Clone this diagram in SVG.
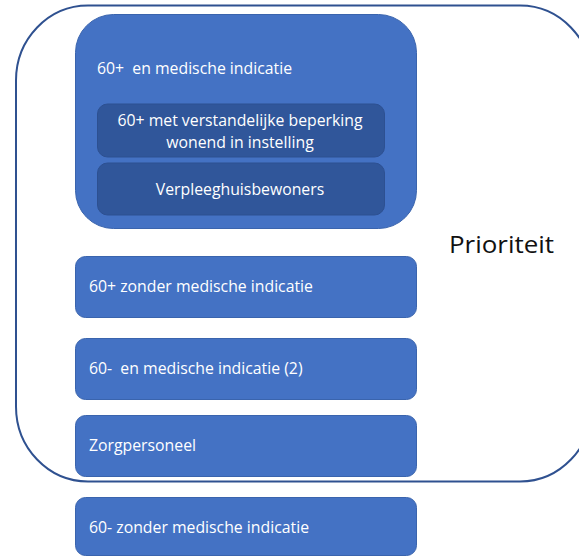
<svg xmlns="http://www.w3.org/2000/svg" width="579" height="557" viewBox="0 0 579 557">
<style>
.box{fill:#4472c4;stroke:#3a64ad;stroke-width:1}
.inner{fill:#30569a;stroke:#2d5091;stroke-width:1}
.t{font-family:"Open Sans","Liberation Sans",sans-serif;font-size:15.8px;fill:#ffffff;white-space:pre}
.c{text-anchor:middle}
.p{font-family:"Open Sans","Liberation Sans",sans-serif;font-size:23px;fill:#111111}
</style>
<rect width="579" height="557" fill="#ffffff"/>
<g id="frame">
<rect x="16" y="5.5" width="576" height="476" rx="72" ry="75" fill="none" stroke="#2f5190" stroke-width="2"/>
<text class="p" x="449" y="253" textLength="105" lengthAdjust="spacingAndGlyphs">Prioriteit</text>
</g>
<g id="n1">
<rect class="box" x="75.5" y="14.5" width="341" height="214" rx="38"/>
<text class="t" x="97" y="74" xml:space="preserve">60+  en medische indicatie</text>
</g>
<g id="n1a">
<rect class="inner" x="97.5" y="104" width="287" height="53" rx="10"/>
<text class="t c" x="240" y="126">60+ met verstandelijke beperking</text>
<text class="t c" x="240" y="148">wonend in instelling</text>
</g>
<g id="n1b">
<rect class="inner" x="97.5" y="163" width="287" height="52" rx="10"/>
<text class="t c" x="240" y="195">Verpleeghuisbewoners</text>
</g>
<g id="n2">
<rect class="box" x="75.5" y="256.5" width="341" height="61" rx="10"/>
<text class="t" x="89" y="292">60+ zonder medische indicatie</text>
</g>
<g id="n3">
<rect class="box" x="75.5" y="338.5" width="341" height="61" rx="10"/>
<text class="t" x="89" y="374" xml:space="preserve">60-  en medische indicatie (2)</text>
</g>
<g id="n4">
<rect class="box" x="75.5" y="415.5" width="341" height="61" rx="10"/>
<text class="t" x="89" y="451">Zorgpersoneel</text>
</g>
<g id="n5">
<rect class="box" x="75.5" y="497.5" width="341" height="58" rx="10"/>
<text class="t" x="89" y="533">60- zonder medische indicatie</text>
</g>
<g id="connectors"></g>
</svg>
